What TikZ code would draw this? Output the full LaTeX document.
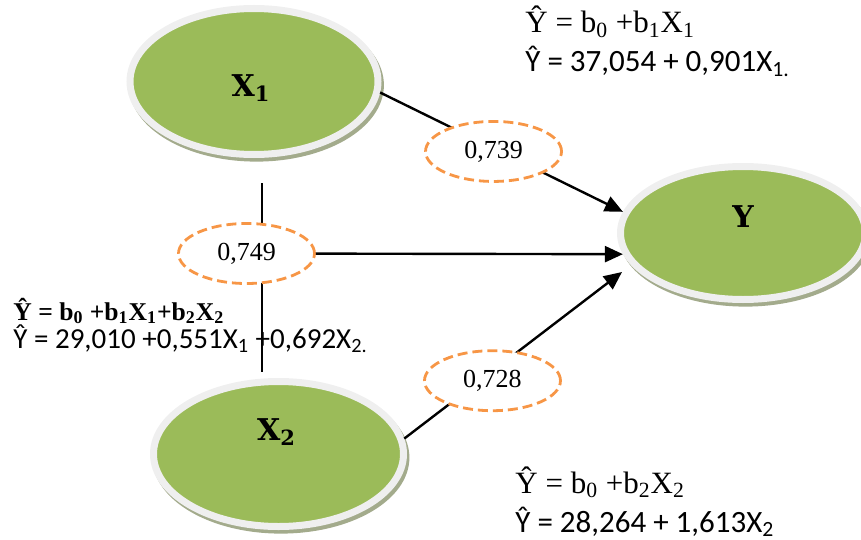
\documentclass[tikz,border=0pt]{standalone}
\usepackage{fontspec}
\setmainfont{Liberation Serif}
\newfontfamily\calibri{Carlito}
\newfontfamily\varfont{DejaVu Serif}
\usepackage{xcolor}
\usetikzlibrary{arrows.meta,shapes.geometric,calc}

\definecolor{vargreen}{HTML}{9BBB59}
\definecolor{rimgrey}{HTML}{EFEFEF}
\definecolor{shadegreen}{HTML}{A3AB8C}
\definecolor{coeforange}{HTML}{F79646}

\begin{document}
\begin{tikzpicture}[x=0.5pt, y=-0.5pt,
  var/.style={ellipse, fill=vargreen, draw=rimgrey, line width=3.5pt, inner sep=0pt,
    preaction={fill=shadegreen, draw=shadegreen, line width=3.5pt,
      transform canvas={shift={(1.2pt,-1.8pt)}}}},
  varlab/.style={font=\varfont\bfseries\fontsize{15}{18}\selectfont},
  coef/.style={ellipse, draw=coeforange, fill=white, line width=1.4pt,
    dash pattern=on 5pt off 2.5pt, minimum width=68pt, minimum height=30pt,
    inner sep=0pt, font=\fontsize{13}{15}\selectfont},
  link/.style={line width=1.2pt},
  arr/.style={link, -{Triangle[length=9pt, width=8pt]}},
  eqline/.style={anchor=base west, inner sep=0pt},
  eqtimes/.style={eqline, font=\fontsize{15.5}{19}\selectfont},
  eqcal/.style={eqline, font=\calibri\fontsize{15.5}{19}\selectfont},
]
\useasboundingbox (0,0) rectangle (861,540);

% --- Variables ---
\node[var, minimum width=124pt, minimum height=73pt,
  label={[varlab, xshift=-1.5pt, yshift=-3.2pt]center:X\textsubscript{1}}] (X1) at (254,81.5) {};
\node[var, minimum width=125pt, minimum height=72.5pt,
  label={[varlab, xshift=-1pt, yshift=11pt]center:X\textsubscript{2}}] (X2) at (278.5,454) {};
\node[var, minimum width=122.5pt, minimum height=66.5pt,
  label={[varlab, yshift=8pt]center:Y}] (Y) at (743,233) {};

% --- Joint effect ---
\coordinate (vtop) at (262,183);
\coordinate (vbot) at (262,372);
\draw[link] (vtop) -- (vbot);
\node[coef] (c749) at (246.5,253.5) {0,749};
\draw[arr] (c749) -- (Y.190);

% --- Single effects ---
\draw[arr] (X1.-5) -- node[coef, pos=.467, yshift=-1.6pt] (c739) {0,739} (Y.170);
\draw[arr] (X2.7) -- node[coef, pos=.405, yshift=-4.8pt] (c728) {0,728} ($(Y.west)+(5,39)$);

% --- Regression equations ---
\node[eqtimes] (eq1a) at (525,33) {Ŷ = b\textsubscript{0} +b\textsubscript{1}X\textsubscript{1}};
\node[eqcal] (eq1b) at (525,72) {Ŷ = 37,054 + 0,901X\textsubscript{1.}};
\node[eqline, font=\bfseries\fontsize{12.8}{16}\selectfont] (eq12a) at (13,320)
  {Ŷ = b\textsubscript{0} +b\textsubscript{1}X\textsubscript{1}+b\textsubscript{2}X\textsubscript{2}};
\node[eqcal, font=\calibri\fontsize{14.5}{17}\selectfont] (eq12b) at (13,348)
  {Ŷ = 29,010 +0,551X\textsubscript{1} +0,692X\textsubscript{2.}};
\node[eqtimes] (eq2a) at (515,493) {Ŷ = b\textsubscript{0} +b\textsubscript{2}X\textsubscript{2}};
\node[eqcal] (eq2b) at (515,532) {Ŷ = 28,264 + 1,613X\textsubscript{2}};
\end{tikzpicture}
\end{document}
